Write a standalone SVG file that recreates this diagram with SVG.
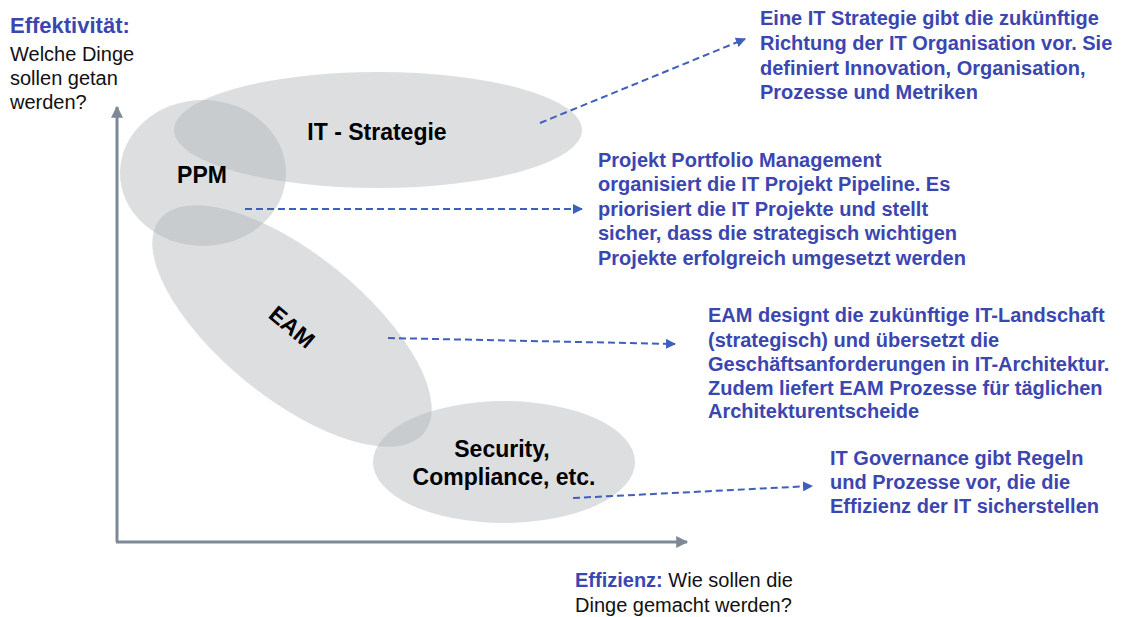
<svg xmlns="http://www.w3.org/2000/svg" width="1133" height="617" viewBox="0 0 1133 617">
<style>
.blob{fill:#b1b5bb;fill-opacity:0.45}
.lbl{font-family:"Liberation Sans",Arial,sans-serif;font-weight:bold;font-size:23px;fill:#000}
.desc{font-family:"Liberation Sans",Arial,sans-serif;font-weight:bold;font-size:20px;fill:#3b46b0}
.axt{font-family:"Liberation Sans",Arial,sans-serif;font-size:20px;fill:#111}
.axb{font-weight:bold;fill:#3b46b0}
.conn{stroke:#3f5fbf;stroke-width:2;stroke-dasharray:7 4;fill:none}
.axis{stroke:#7d8a95;stroke-width:3;fill:none}
</style>
<defs>
<marker id="ah" viewBox="0 0 10 10" refX="9" refY="5" markerWidth="5" markerHeight="5" orient="auto" markerUnits="strokeWidth">
<path d="M0,0 L10,5 L0,10 z" fill="#3f5fbf"/>
</marker>
<marker id="axh" viewBox="0 0 10 10" refX="9" refY="5" markerWidth="4.5" markerHeight="4" orient="auto" markerUnits="strokeWidth">
<path d="M0,0 L10,5 L0,10 z" fill="#7d8a95"/>
</marker>
</defs>

<g id="axes">
<line class="axis" x1="117" y1="542" x2="117" y2="107" marker-end="url(#axh)"/>
<line class="axis" x1="116" y1="542" x2="687" y2="542" marker-end="url(#axh)"/>
</g>

<g id="node-it-strategie">
<ellipse class="blob" cx="378" cy="130" rx="204" ry="58"/>
<text class="lbl" x="377" y="140" text-anchor="middle">IT - Strategie</text>
</g>
<g id="node-ppm">
<ellipse class="blob" cx="203" cy="173" rx="83" ry="73"/>
<text class="lbl" x="202" y="183" text-anchor="middle">PPM</text>
</g>
<g id="node-eam">
<ellipse class="blob" cx="0" cy="0" rx="170" ry="72" transform="translate(292,326) rotate(39)"/>
<text class="lbl" x="0" y="8" text-anchor="middle" transform="translate(292,327) rotate(40)">EAM</text>
</g>
<g id="node-security">
<ellipse class="blob" cx="504" cy="462" rx="131" ry="61"/>
<text class="lbl" text-anchor="middle"><tspan x="502" y="457">Security,</tspan><tspan x="504" y="485">Compliance, etc.</tspan></text>
</g>

<g id="connectors">
<line class="conn" x1="540" y1="123" x2="745" y2="39" marker-end="url(#ah)"/>
<line class="conn" x1="245" y1="209" x2="582" y2="209" marker-end="url(#ah)"/>
<line class="conn" x1="388" y1="338" x2="675" y2="344" marker-end="url(#ah)"/>
<line class="conn" x1="573" y1="498" x2="812" y2="486" marker-end="url(#ah)"/>
</g>

<g id="text-effektivitaet">
<text class="axt" x="10" y="33"><tspan class="axb" font-size="22">Effektivität:</tspan></text>
<text class="axt" x="10" y="61">Welche Dinge</text>
<text class="axt" x="10" y="85">sollen getan</text>
<text class="axt" x="10" y="109">werden?</text>
</g>
<g id="text-effizienz">
<text class="axt" x="575" y="587" font-size="21"><tspan class="axb">Effizienz:</tspan> Wie sollen die</text>
<text class="axt" x="575" y="612" font-size="21">Dinge gemacht werden?</text>
</g>

<g id="desc-it-strategie">
<text class="desc" x="760" y="25">Eine IT Strategie gibt die zukünftige</text>
<text class="desc" x="760" y="50">Richtung der IT Organisation vor. Sie</text>
<text class="desc" x="760" y="75">definiert Innovation, Organisation,</text>
<text class="desc" x="760" y="99">Prozesse und Metriken</text>
</g>
<g id="desc-ppm">
<text class="desc" x="598" y="167">Projekt Portfolio Management</text>
<text class="desc" x="598" y="191">organisiert die IT Projekt Pipeline. Es</text>
<text class="desc" x="598" y="216">priorisiert die IT Projekte und stellt</text>
<text class="desc" x="598" y="240">sicher, dass die strategisch wichtigen</text>
<text class="desc" x="598" y="265">Projekte erfolgreich umgesetzt werden</text>
</g>
<g id="desc-eam">
<text class="desc" x="708" y="322">EAM designt die zukünftige IT-Landschaft</text>
<text class="desc" x="708" y="347">(strategisch) und übersetzt die</text>
<text class="desc" x="708" y="371">Geschäftsanforderungen in IT-Architektur.</text>
<text class="desc" x="708" y="395">Zudem liefert EAM Prozesse für täglichen</text>
<text class="desc" x="708" y="418">Architekturentscheide</text>
</g>
<g id="desc-governance">
<text class="desc" x="830" y="465">IT Governance gibt Regeln</text>
<text class="desc" x="830" y="489">und Prozesse vor, die die</text>
<text class="desc" x="830" y="513">Effizienz der IT sicherstellen</text>
</g>
</svg>
